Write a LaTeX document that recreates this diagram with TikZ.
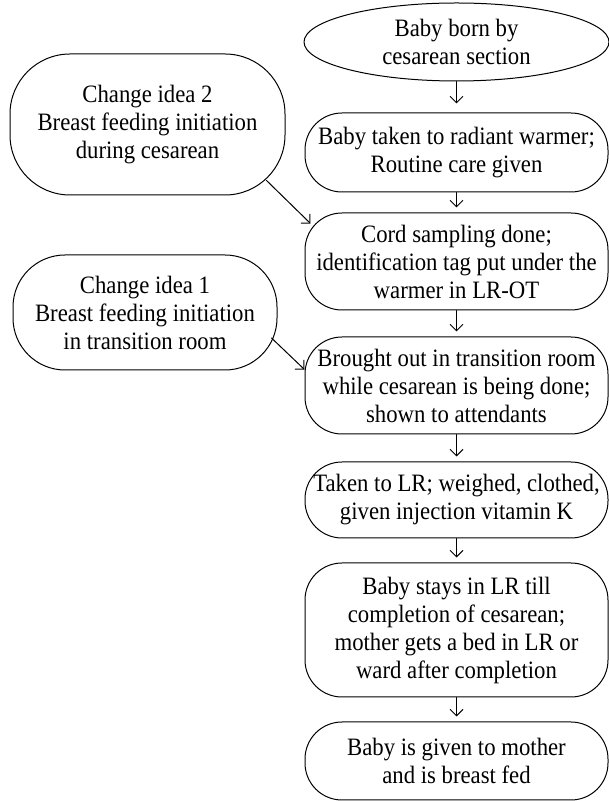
\documentclass[tikz,border=0pt]{standalone}
\usepackage{fontspec}
\setmainfont{Liberation Serif}[FakeStretch=0.91]
\usetikzlibrary{shapes.geometric,arrows.meta,calc}

\begin{document}
\begin{tikzpicture}[line cap=round,line join=round,>={Straight Barb[length=6.5pt,width=13pt]},x=1pt,y=1pt,line width=1pt,
	font=\fontsize{25}{28}\selectfont,
	stepbox/.style={draw,rounded corners=37pt,align=center,inner sep=0pt,minimum width=303pt},
	ideabox/.style={draw,align=center,inner sep=0pt}]
		\useasboundingbox (0,0) rectangle (609,801);
		% main column
		\node[draw,ellipse,align=center,inner sep=0pt,minimum width=305pt,minimum height=78pt] (born) at (456.5,759) {Baby born by\\cesarean section};
		\node[stepbox,minimum height=79pt] (warm) at (456.5,648.5) {Baby taken to radiant warmer;\\Routine care given};
		\node[stepbox,minimum height=97pt] (cord) at (456.5,539.5) {Cord sampling done;\\identification tag put under the\\warmer in LR-OT};
		\node[stepbox,minimum height=97pt] (room) at (456.5,415.5) {Brought out in transition room\\while cesarean is being done;\\shown to attendants};
		\node[stepbox,minimum height=76pt] (lr) at (456.5,301) {Taken to LR; weighed, clothed,\\given injection vitamin K};
		\node[stepbox,minimum height=134pt] (stay) at (456.5,171) {Baby stays in LR till\\completion of cesarean;\\mother gets a bed in LR or\\ward after completion};
		\node[stepbox,minimum height=78pt] (fed) at (456.5,40) {Baby is given to mother\\and is breast fed};
		% change ideas
		\node[ideabox,rounded corners=60pt,minimum width=275pt,minimum height=141pt] (idea2) at (147.5,676.5) {Change idea 2\\Breast feeding initiation\\during cesarean};
		\node[ideabox,rounded corners=52pt,minimum width=264pt,minimum height=115pt] (idea1) at (145,488.5) {Change idea 1\\Breast feeding initiation\\in transition room};
		% arrows
		\draw[->,shorten >=9pt] (born.south) -- (warm.north);
		\foreach \a/\b in {warm/cord,cord/room,room/lr,lr/stay,stay/fed}
			\draw[->,shorten >=5pt] (\a.south) -- (\b.north);
		\draw[->] ($(idea2.south east)+(-19,15)$) -- ($(cord.north west)+(6,-11)$);
		\draw[->] ($(idea1.east)+(-6,-25.5)$) -- (room.174);
		\end{tikzpicture}
\end{document}
